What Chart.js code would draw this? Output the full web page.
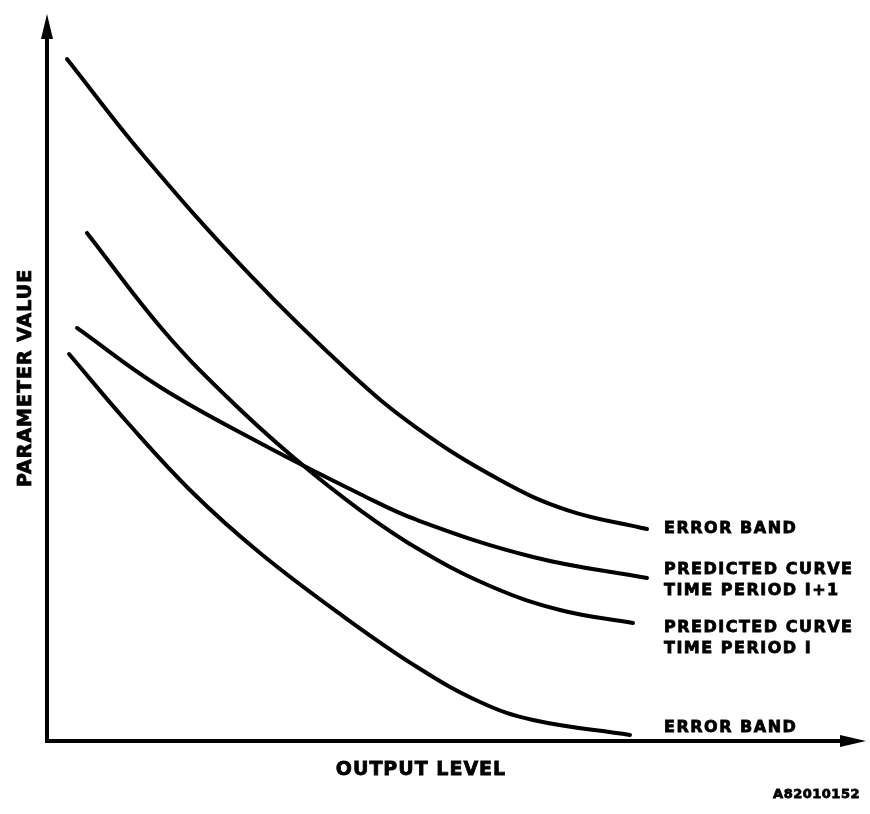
<!DOCTYPE html>
<html>
<head>
<meta charset="utf-8">
<script src="https://cdn.jsdelivr.net/npm/chart.js@4/dist/chart.umd.min.js"></script>
<style>
  body { margin: 0; background: #fff; }
  #wrap { width: 870px; height: 814px; }
</style>
</head>
<body>
<div id="wrap"><canvas id="myChart" width="870" height="814"></canvas></div>
<script>
// output level (x) and parameter value (y), 0-100 units
var upperBandX = [2.44, 11.72, 24.79, 37.00, 45.18, 55.31, 63.49, 73.26];
var upperBandY = [93.81, 80.61, 64.10, 50.62, 43.05, 35.90, 31.77, 29.16];

var nextPeriodX = [3.66, 13.80, 26.01, 38.22, 45.18, 59.34, 73.26];
var nextPeriodY = [56.81, 48.69, 40.99, 33.98, 30.40, 25.31, 22.42];

var thisPeriodX = [4.88, 14.16, 21.98, 30.04, 38.22, 45.54, 54.09, 62.64, 71.55];
var thisPeriodY = [69.88, 56.53, 47.32, 39.06, 31.77, 26.27, 21.32, 18.02, 16.23];

var lowerBandX = [2.69, 9.77, 17.83, 26.01, 35.78, 45.18, 52.87, 59.34, 71.18];
var lowerBandY = [53.23, 43.88, 34.11, 25.86, 17.47, 10.18, 5.36, 2.89, 0.83];

var curveLabels = [
    ['ERROR BAND'],
    ['PREDICTED CURVE', 'TIME PERIOD I+1'],
    ['PREDICTED CURVE', 'TIME PERIOD I'],
    ['ERROR BAND']
];
var labelShift = [0, -8, 5, -7];

function points(xs, ys) {
    return xs.map(function (x, i) { return { x: x, y: ys[i] }; });
}

function curve(xs, ys) {
    return {
        data: points(xs, ys),
        showLine: true,
        borderColor: '#000',
        borderWidth: 4,
        borderCapStyle: 'round',
        pointRadius: 0,
        tension: 0.4
    };
}

function boldText(ctx, t, x, y) {
    ctx.fillText(t, x, y);
    ctx.strokeText(t, x, y);
}

var sketch = {
    id: 'sketch',
    afterDraw: function (chart) {
        var ctx = chart.ctx;
        var a = chart.chartArea;
        var xs = chart.scales.x, ys = chart.scales.y;
        ctx.save();
        ctx.strokeStyle = '#000';
        ctx.fillStyle = '#000';
        ctx.lineWidth = 4;
        // axes
        ctx.beginPath();
        ctx.moveTo(a.left, a.top + 20);
        ctx.lineTo(a.left, a.bottom);
        ctx.lineTo(a.right - 22, a.bottom);
        ctx.stroke();
        ctx.beginPath();
        ctx.moveTo(a.left, a.top);
        ctx.lineTo(a.left - 6, a.top + 25);
        ctx.lineTo(a.left + 6, a.top + 25);
        ctx.closePath();
        ctx.fill();
        ctx.beginPath();
        ctx.moveTo(a.right, a.bottom);
        ctx.lineTo(a.right - 26, a.bottom - 6);
        ctx.lineTo(a.right - 26, a.bottom + 6);
        ctx.closePath();
        ctx.fill();

        // curve labels at the end of each curve
        ctx.lineWidth = 0.8;
        ctx.font = 'bold 16px "DejaVu Sans"';
        ctx.letterSpacing = '1.5px';
        ctx.textBaseline = 'middle';
        ctx.textAlign = 'left';
        chart.data.datasets.forEach(function (ds, i) {
            var last = ds.data[ds.data.length - 1];
            var px = xs.getPixelForValue(last.x);
            var py = ys.getPixelForValue(last.y) + labelShift[i];
            var lx = Math.max(px + 17, 664);
            curveLabels[i].forEach(function (t, j) {
                boldText(ctx, t, lx, py + j * 21);
            });
        });

        ctx.font = 'bold 19px "DejaVu Sans"';
        ctx.letterSpacing = '1px';
        ctx.textAlign = 'center';
        boldText(ctx, 'OUTPUT LEVEL', 421, 770);

        ctx.save();
        ctx.translate(26, 378);
        ctx.rotate(-Math.PI / 2);
        boldText(ctx, 'PARAMETER VALUE', 0, 0);
        ctx.restore();

        ctx.font = 'bold 13px "DejaVu Sans"';
        ctx.letterSpacing = '0.5px';
        ctx.textAlign = 'right';
        boldText(ctx, 'A82010152', 860, 795);
        ctx.restore();
    }
};

window.onload = function () {
    var chart = new Chart('myChart', {
        type: 'scatter',
        data: {
            datasets: [
                curve(upperBandX, upperBandY),
                curve(nextPeriodX, nextPeriodY),
                curve(thisPeriodX, thisPeriodY),
                curve(lowerBandX, lowerBandY)
            ]
        },
        options: {
            responsive: false,
            animation: false,
            layout: { padding: { left: 47, right: 4, top: 14, bottom: 73 } },
            plugins: { legend: { display: false }, tooltip: { enabled: false } },
            scales: {
                x: { display: false, min: 0, max: 100 },
                y: { display: false, min: 0, max: 100 }
            }
        },
        plugins: [sketch]
    });
};
</script>
</body>
</html>
